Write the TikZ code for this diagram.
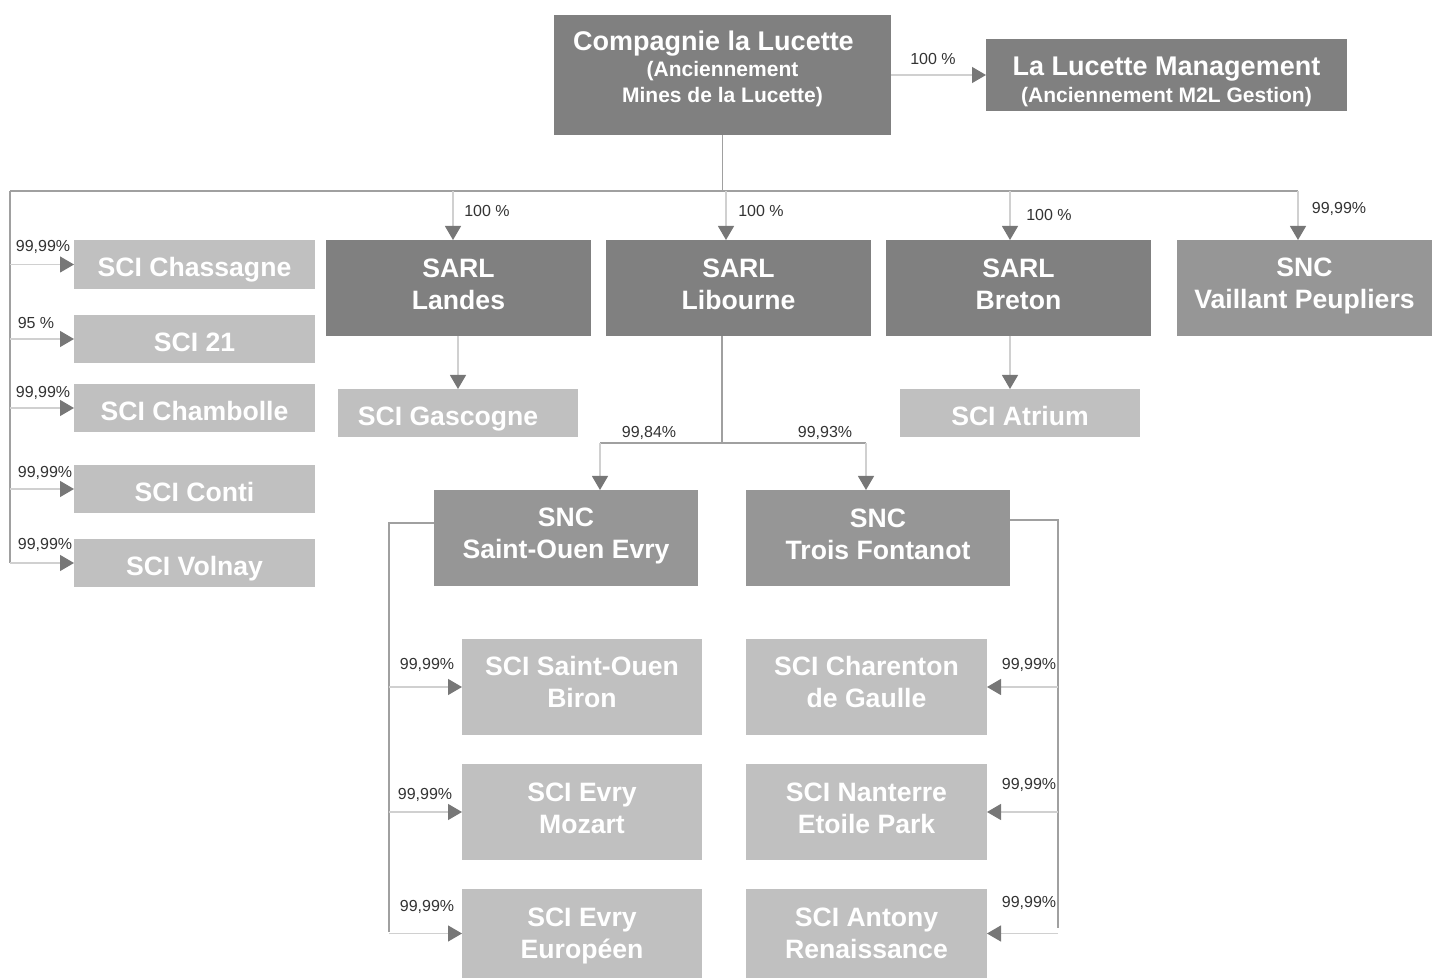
\documentclass[tikz,border=0pt]{standalone}
\usepackage{fontspec}
\setmainfont{Liberation Sans}
\usetikzlibrary{arrows.meta,calc}
\definecolor{dark}{HTML}{808080}
\definecolor{mid}{HTML}{969696}
\definecolor{light}{HTML}{C0C0C0}
\definecolor{linec}{HTML}{A0A0A0}
\definecolor{linel}{HTML}{D0D0D0}
\definecolor{tipc}{HTML}{777777}
\definecolor{labc}{HTML}{333333}
\newcommand\bx[8]{\node[#6, minimum width={(#4-#2)*0.5pt}, minimum height={(#5-#3)*0.5pt}, label={[boxtext, yshift=#8pt]center:{#7}}] (#1) at ({(#2+#4)/2},{(#3+#5)/2}) {};}
\newcommand\sub{\fontsize{10.5}{13}\selectfont}
\newcommand\ttl{\fontsize{13.5}{16}\selectfont}
\begin{document}
\begin{tikzpicture}[x=0.5pt,y=-0.5pt,
 box/.style={inner sep=0pt, outer sep=0pt},
 boxtext/.style={inner sep=0pt, outer sep=0pt, text=white, font=\bfseries\fontsize{13.3}{16}\selectfont, align=center},
 dbox/.style={box, fill=dark}, mbox/.style={box, fill=mid}, lbox/.style={box, fill=light},
 ln/.style={draw=linec, line width=0.6pt},
 lnl/.style={draw=linel, line width=0.6pt},
 arr/.style={-{Triangle[width=8pt,length=7pt,color=tipc]}},
 pct/.style={font=\fontsize{8}{9.6}\selectfont, text=labc, inner sep=0pt}]
\useasboundingbox (0,0) rectangle (1432,978);
% boxes
\bx{c}{554}{15}{891}{135}{dbox}{{\ttl Compagnie la Lucette\hspace*{9pt}}\\[-3pt]{\sub(Anciennement}\\[-3pt]{\sub Mines de la Lucette)}}{3}
\bx{lm}{986}{39}{1347}{111}{dbox}{{\ttl La Lucette Management}\\[-2.5pt]{\sub(Anciennement M2L Gestion)}}{-3.5}
\bx{landes}{326}{240}{591}{336}{dbox}{SARL\\Landes}{2}
\bx{libourne}{606}{240}{871}{336}{dbox}{SARL\\Libourne}{2}
\bx{breton}{886}{240}{1151}{336}{dbox}{SARL\\Breton}{2}
\bx{vaillant}{1177}{240}{1432}{336}{mbox}{SNC\\Vaillant Peupliers}{1}
\bx{chas}{74}{240}{315}{289}{lbox}{SCI Chassagne}{-2.5}
\bx{s21}{74}{315}{315}{363}{lbox}{SCI 21}{-1.5}
\bx{chamb}{74}{384}{315}{432}{lbox}{SCI Chambolle}{-1.5}
\bx{conti}{74}{465}{315}{513}{lbox}{SCI Conti}{-1.5}
\bx{volnay}{74}{539}{315}{587}{lbox}{SCI Volnay}{-3}
\bx{gasc}{338}{389}{578}{437}{lbox}{SCI Gascogne\hspace*{10pt}}{-3}
\bx{atrium}{900}{389}{1140}{437}{lbox}{SCI Atrium}{-1.5}
\bx{soe}{434}{490}{698}{586}{mbox}{SNC\\Saint-Ouen Evry}{1}
\bx{tf}{746}{490}{1010}{586}{mbox}{SNC\\Trois Fontanot}{2}
\bx{biron}{462}{639}{702}{735}{lbox}{SCI Saint-Ouen\\Biron}{2.5}
\bx{mozart}{462}{764}{702}{860}{lbox}{SCI Evry\\Mozart}{2}
\bx{euro}{462}{889}{702}{978}{lbox}{SCI Evry\\Européen}{-1}
\bx{charenton}{746}{639}{987}{735}{lbox}{SCI Charenton\\de Gaulle}{2.5}
\bx{nanterre}{746}{764}{987}{860}{lbox}{SCI Nanterre\\Etoile Park}{2}
\bx{antony}{746}{889}{987}{978}{lbox}{SCI Antony\\Renaissance}{0}
% coordinates
\coordinate (busL) at (10,191);
\coordinate (busR) at (1298,191);
\coordinate (busEnd) at (10,563);
\coordinate (d1) at (453,191);
\coordinate (d2) at (726,191);
\coordinate (d3) at (1010,191);
\coordinate (lb) at (722,443);
\coordinate (sL) at (600,443);
\coordinate (sR) at (866,443);
\coordinate (bl) at (389,523);
\coordinate (blEnd) at (389,932);
\coordinate (br) at (1058,520);
\coordinate (brEnd) at (1058,928);
% top connectors
\draw[lnl,arr] (c) -- (lm);
\draw[ln] (c.south) -- (c.south |- busL);
\draw[ln] (busL) -- (busR);
\draw[ln] (busL) -- (busEnd);
\draw[lnl,arr] (d1) -- (d1 |- landes.north);
\draw[lnl,arr] (d2) -- (d2 |- libourne.north);
\draw[lnl,arr] (d3) -- (d3 |- breton.north);
\draw[lnl,arr] (busR) -- (busR |- vaillant.north);
% left SCIs
\draw[lnl,arr] (busL |- chas.west) -- (chas.west);
\draw[lnl,arr] (busL |- s21.west) -- (s21.west);
\draw[lnl,arr] (busL |- chamb.west) -- (chamb.west);
\draw[lnl,arr] (busL |- conti.west) -- (conti.west);
\draw[lnl,arr] (busL |- volnay.west) -- (volnay.west);
% SARL children
\draw[lnl,arr] (landes.south -| gasc.north) -- (gasc.north);
\draw[lnl,arr] (breton.south -| d3) -- (atrium.north -| d3);
\draw[ln] (libourne.south -| lb) -- (lb);
\draw[ln] (sL) -- (sR);
\draw[lnl,arr] (sL) -- (sL |- soe.north);
\draw[lnl,arr] (sR) -- (sR |- tf.north);
% SNC brackets
\draw[ln] (soe.west |- bl) -- (bl) -- (blEnd);
\draw[lnl,arr] (bl |- biron.west) -- (biron.west);
\draw[lnl,arr] (bl |- mozart.west) -- (mozart.west);
\draw[lnl,arr] (bl |- euro.west) -- (euro.west);
\draw[ln] (tf.east |- br) -- (br) -- (brEnd);
\draw[lnl,arr] (br |- charenton.east) -- (charenton.east);
\draw[lnl,arr] (br |- nanterre.east) -- (nanterre.east);
\draw[lnl,arr] (br |- antony.east) -- (antony.east);
% labels
\node[pct] (p0) at (933,59) {100 \%};
\node[pct] (p1) at (487,211) {100 \%};
\node[pct] (p2) at (761,211) {100 \%};
\node[pct] (p3) at (1049,215) {100 \%};
\node[pct] (p4) at (1339,209) {99,99\%};
\node[pct] (p5) at (43,247) {99,99\%};
\node[pct] (p6) at (36,323) {95 \%};
\node[pct] (p7) at (43,393) {99,99\%};
\node[pct] (p8) at (45,473) {99,99\%};
\node[pct] (p9) at (45,545) {99,99\%};
\node[pct] (p10) at (649,433) {99,84\%};
\node[pct] (p11) at (825,433) {99,93\%};
\node[pct] (p12) at (427,665) {99,99\%};
\node[pct] (p13) at (425,795) {99,99\%};
\node[pct] (p14) at (427,907) {99,99\%};
\node[pct] (p15) at (1029,665) {99,99\%};
\node[pct] (p16) at (1029,785) {99,99\%};
\node[pct] (p17) at (1029,903) {99,99\%};
\end{tikzpicture}
\end{document}
